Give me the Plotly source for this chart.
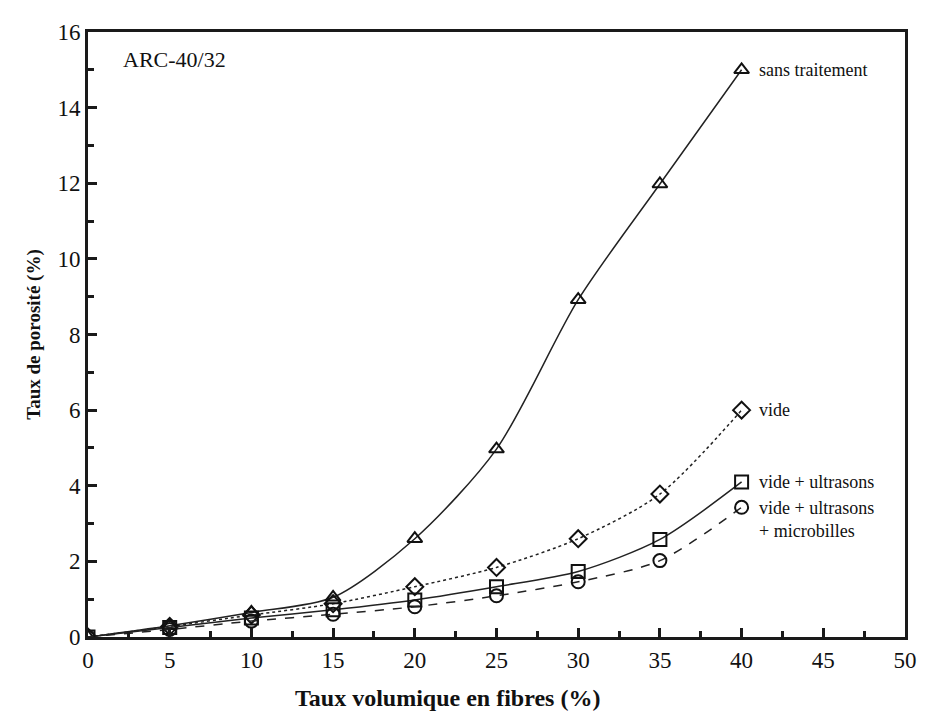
import plotly.graph_objects as go

# Fibre volume fraction (%)
fibres = [0, 5, 10, 15, 20, 25, 30, 35, 40]

# Porosity (%) per treatment
sans_traitement = [0, 0.3, 0.65, 1.05, 2.6, 4.97, 8.92, 11.98, 15.0]
vide = [0, 0.28, 0.58, 0.88, 1.33, 1.84, 2.6, 3.78, 6.0]
vide_ultrasons = [0, 0.25, 0.5, 0.72, 0.98, 1.33, 1.73, 2.58, 4.1]
vide_ultrasons_microbilles = [0, 0.2, 0.42, 0.6, 0.8, 1.09, 1.46, 2.02, 3.43]

series = [
    ("sans traitement", sans_traitement, "triangle-up-open", "solid"),
    ("vide", vide, "diamond-open", "dot"),
    ("vide + ultrasons", vide_ultrasons, "square-open", "solid"),
    ("vide + ultrasons<br>+ microbilles", vide_ultrasons_microbilles, "circle-open", "dash"),
]

font_family = "Liberation Serif, Times New Roman, serif"

fig = go.Figure()

for name, values, symbol, dash in series:
    fig.add_trace(go.Scatter(
        x=fibres,
        y=values,
        mode="lines+markers",
        name=name,
        line=dict(color="#222", width=1.5, dash=dash, shape="spline", smoothing=0.8),
        marker=dict(symbol=symbol, size=13, color="#111", line=dict(width=2, color="#111")),
        showlegend=False,
    ))
    # label next to the last point
    fig.add_annotation(
        x=fibres[-1], y=values[-1],
        xref="x", yref="y",
        text=name,
        showarrow=False,
        xanchor="left",
        yanchor="top" if "microbilles" in name else "middle",
        yshift=11 if "microbilles" in name else 0,
        xshift=15,
        align="left",
        font=dict(family=font_family, size=18, color="#111"),
    )

fig.add_annotation(
    x=0.04, y=0.955, xref="paper", yref="paper",
    text="ARC-40/32", showarrow=False,
    xanchor="left", yanchor="middle",
    font=dict(family=font_family, size=22, color="#111"),
)

# x-axis title, sitting a little left of centre as in the original
fig.add_annotation(
    x=0.44, y=-0.1, xref="paper", yref="paper",
    text="<b>Taux volumique en fibres (%)</b>", showarrow=False,
    xanchor="center", yanchor="middle",
    font=dict(family=font_family, size=24, color="#111"),
)

axis_common = dict(
    showgrid=False,
    zeroline=False,
    showline=True,
    linecolor="#1a1a1a",
    linewidth=3,
    mirror=True,
    ticks="inside",
    tickwidth=3,
    tickcolor="#1a1a1a",
    tickfont=dict(family=font_family, size=23, color="#111"),
)

fig.update_layout(
    width=925,
    height=715,
    paper_bgcolor="white",
    plot_bgcolor="white",
    margin=dict(l=80, r=28, t=20, b=86),
    xaxis=dict(
        range=[0, 50],
        tick0=0,
        dtick=5,
        ticklen=9,
        minor=dict(ticks="inside", dtick=2.5, ticklen=6, tickwidth=3, tickcolor="#1a1a1a"),
        **axis_common,
    ),
    yaxis=dict(
        range=[0, 16],
        tick0=0,
        dtick=2,
        ticklen=9,
        minor=dict(ticks="inside", dtick=1, ticklen=6, tickwidth=3, tickcolor="#1a1a1a"),
        title=dict(text="<b>Taux de porosité (%)</b>",
                   font=dict(family=font_family, size=19, color="#111"), standoff=12),
        **axis_common,
    ),
)

fig.write_html("out.html")
